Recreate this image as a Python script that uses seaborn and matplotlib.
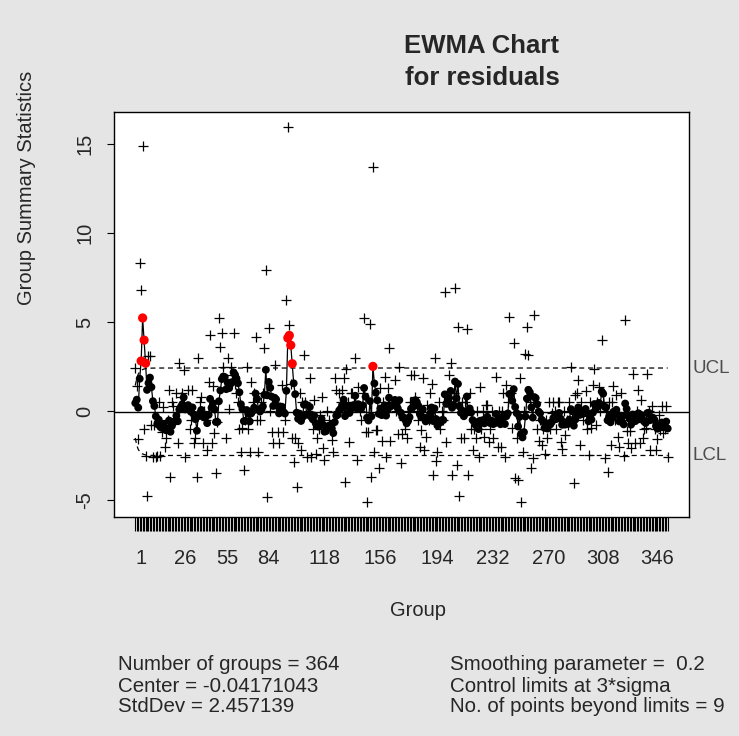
import numpy as np
import pandas as pd
import matplotlib
matplotlib.use("Agg")
import matplotlib.pyplot as plt
import matplotlib.transforms as mtransforms
import seaborn as sns

# ---- data ---------------------------------------------------------------
resid_a = [2.4, 1.4, -1.6, 8.3, 6.8, 14.9, -1.0, -2.5, -4.8, 3.1,
           3.1, -0.8, -2.6, -0.8, -2.6, -2.5, 0.5, -2.5, -1.2, 0.2,
           -2.0, -1.5, -0.5, 1.2, -3.7, 0.5, 0.3, -0.5, 1.0, -1.8,
           2.7, 0.8, 1.0, 2.3, -2.6, 0.2, 1.2, -1.0, -0.5, 1.2,
           -1.8, -1.5, -3.7, 3.0, 0.5, 0.8, -1.8, 0.0, -0.5, -2.2,
           1.65, 4.27, -1.8, 1.4, -1.25, -3.46, -0.6, 5.2, 3.58, 4.36]
resid_b = [2.5, 1.8, -1.5, 3.0, 0.1, 2.5, 2.0, 4.36, 1.5, 1.0,
           0.5, -1.0, -2.3, -0.97, -3.3, -0.5, 2.5, -1.0, -2.3, 1.65,
           0.5, 1.0, 4.14, -0.5, -2.3, -0.5, 0.5, 1.0, 3.52, 7.92,
           -4.85, 4.64, 0.0, -1.2, -1.8, 2.58, 0.3, -1.2, -1.8, 0.2,
           1.46, -1.2, -0.5, 6.24, 15.97, 4.83, 1.5, -1.5, -2.85, -1.5,
           -4.25, -1.8, 1.0, -2.2, 0.5, 3.15, 0.5, -2.6, 0.0, 1.84]
resid_c = [-2.6, -1.0, 0.6, -2.4, -1.5, -1.0, -0.2, 0.8, -2.1, -2.75,
           -1.0, 0.0, -0.5, -0.8, -1.63, -2.28, 1.84, 1.18, 0.0, 1.0,
           0.5, 1.18, 1.84, -3.97, 2.34, 0.5, -1.72, 1.0, 1.0, 0.5,
           2.96, -2.75, 1.37, 0.0, -0.5, 1.0, 5.2, -1.16, -5.1, -1.16,
           4.9, -3.7, 13.73, -2.28, -1.07, -1.07, -3.2, 1.3, -1.7, 0.5,
           1.93, -2.56, 1.3, 3.52, -1.7, 0.5, 0.5, 1.74, 0.0, -1.3]
resid_d = [2.49, -2.9, -1.3, -0.5, -1.0, -1.5, 0.0, 0.5, 2.0, 0.5,
           2.0, 0.8, 0.0, -0.5, -2.0, -1.07, 1.84, -2.2, -1.44, 0.34,
           -0.5, 1.0, 1.52, -3.6, 2.96, -2.8, -2.28, 0.52, -1.0, 0.0,
           -0.5, 6.7, -1.72, 0.5, 2.0, 2.68, -3.6, 1.0, 6.9, -3.03,
           4.74, -4.8, -1.54, 0.5, -1.54, 0.5, 4.59, -3.6, 1.0, -1.0,
           -2.2, -1.0, -1.5, 0.0, -2.56, 1.33, -1.0, 0.0, -1.44, 0.34]
resid_e = [0.34, -1.72, -1.0, 0.0, -1.5, -0.5, 1.93, -2.0, 0.0, -2.0,
           0.0, 1.0, -2.56, 1.46, 0.5, 5.3, 1.0, -0.97, 3.84, -3.78,
           -1.5, -3.88, 1.84, -5.1, -2.28, 0.0, 3.2, 4.74, 3.15, 0.5,
           -3.2, -2.66, 5.4, 0.5, -1.0, -1.7, -0.5, -1.9, -1.0, -2.4,
           -0.5, -1.5, 0.5, -1.0, -0.1, 0.5, 0.0, -1.0, 0.5, 0.52,
           -1.72, -2.15, 0.0, -1.35, -0.5, -0.79, 0.5, 2.45, -0.5, -4.06]
resid_f = [0.9, 1.0, 1.74, -1.9, 0.5, -0.5, 0.0, 1.1, -1.0, -2.47,
           0.5, -0.97, 1.46, 2.34, -0.79, 0.5, 1.37, 0.0, 4.0, 0.5,
           -2.66, 0.0, -3.4, 0.5, -1.9, 0.5, 1.4, -0.5, 0.9, -1.44,
           -2.0, 1.0, -0.5, -2.5, 5.1, -1.1, -1.8, -1.1, -2.1, 2.08,
           -0.5, -1.8, 0.0, 1.18, -1.8, 0.62, -1.5, -1.0, -0.97, 2.08,
           0.0, -2.2, 0.3, -0.5, -1.0, -2.2, -1.6, -0.2, -1.07, 0.3,
           -1.25, -1.0, 0.3, -2.56]

center = -0.04171043
std_dev = 2.457139
smoothing = 0.2
nsigmas = 3
n_beyond = 9

tick_labels = ["1", "26", "55", "84", "118", "156", "194", "232", "270", "308", "346"]
tick_groups = [5, 35, 64, 92, 130, 168, 207, 245, 283, 320, 357]
y_ticks = [-5, 0, 5, 10, 15]

# ---- statistics -----------------------------------------------------------
resid = np.array(resid_a + resid_b + resid_c + resid_d + resid_e + resid_f)
n = len(resid)
groups = np.arange(1, n + 1)
ewma = np.empty(n)
prev = center
for i, v in enumerate(resid):
    prev = smoothing * v + (1 - smoothing) * prev
    ewma[i] = prev
se = std_dev * np.sqrt(smoothing / (2 - smoothing) * (1 - (1 - smoothing) ** (2 * groups)))
ucl = center + nsigmas * se
lcl = center - nsigmas * se
viol = (ewma > ucl) | (ewma < lcl)

df = pd.DataFrame({"group": groups, "resid": resid, "ewma": ewma,
                   "ucl": ucl, "lcl": lcl, "viol": viol})

# ---- plot -------------------------------------------------------------------
sns.set_style("ticks")
plt.rcParams["font.family"] = ["Liberation Sans", "DejaVu Sans"]
bg = "#e5e5e5"
fig = plt.figure(figsize=(7.39, 7.36), dpi=100, facecolor=bg)
ax = fig.add_axes([114 / 739, 1 - 517 / 736, 575 / 739, 405 / 736])
ax.set_facecolor("white")

sns.scatterplot(data=df, x="group", y="resid", marker="+", color="black",
                s=50, linewidth=0.9, ax=ax, zorder=2, legend=False)
sns.lineplot(data=df, x="group", y="ewma", color="black", lw=0.9,
             estimator=None, ax=ax, zorder=3, legend=False)
sns.scatterplot(data=df[~df["viol"]], x="group", y="ewma", color="black",
                s=32, edgecolor="none", ax=ax, zorder=4, legend=False)
sns.scatterplot(data=df[df["viol"]], x="group", y="ewma", color="#ff0000",
                s=44, edgecolor="none", ax=ax, zorder=5, legend=False)
sns.lineplot(data=df, x="group", y="ucl", color="black", lw=0.9,
             linestyle=(0, (4, 3)), estimator=None, ax=ax, zorder=3)
sns.lineplot(data=df, x="group", y="lcl", color="black", lw=0.9,
             linestyle=(0, (4, 3)), estimator=None, ax=ax, zorder=3)
ax.axhline(center, color="black", lw=1.0, zorder=3)

ax.set_xlim(1 - 0.04 * (n - 1), n + 0.04 * (n - 1))
ax.set_ylim(-5.955, 16.80)

lab = [""] * n
for t, g in zip(tick_labels, tick_groups):
    lab[g - 1] = t
ax.set_xticks(groups)
ax.set_xticklabels(lab, fontsize=14.5)
ax.tick_params(axis="x", length=10, width=0.8, pad=13, color="black", direction="out")
ax.set_yticks(y_ticks)
ax.set_yticklabels([str(v) for v in y_ticks], rotation=90, va="center", fontsize=14.5)
ax.tick_params(axis="y", length=5, width=0.8, pad=9, color="black", direction="out")
for sp in ax.spines.values():
    sp.set_visible(True)
    sp.set_color("black")
    sp.set_linewidth(1.0)
ax.set_xlabel("")
ax.set_ylabel("")

trans = mtransforms.blended_transform_factory(ax.transAxes, ax.transData)
ax.text(1.006, ucl[-1], "UCL", transform=trans, ha="left", va="center",
        fontsize=13.5, color="#4d4d4d")
ax.text(1.006, lcl[-1], "LCL", transform=trans, ha="left", va="center",
        fontsize=13.5, color="#4d4d4d")

fig.text(482 / 739, 1 - 46 / 736, "EWMA Chart", ha="center", va="center",
         fontsize=18.5, fontweight="bold")
fig.text(482 / 739, 1 - 78 / 736, "for residuals", ha="center", va="center",
         fontsize=18.5, fontweight="bold")
fig.text(418 / 739, 1 - 610 / 736, "Group", ha="center", va="center", fontsize=14.5)
fig.text(27 / 739, 1 - 188 / 736, "Group Summary Statistics", ha="center",
         va="center", rotation=90, fontsize=14.5)

left_lines = [f"Number of groups = {n}", f"Center = {center}", f"StdDev = {std_dev}"]
right_lines = [f"Smoothing parameter =  {smoothing}",
               f"Control limits at {nsigmas}*sigma",
               f"No. of points beyond limits = {n_beyond}"]
for k, (l, r) in enumerate(zip(left_lines, right_lines)):
    yy = 1 - (665 + 21 * k) / 736
    fig.text(118 / 739, yy, l, ha="left", va="center", fontsize=14.8)
    fig.text(450 / 739, yy, r, ha="left", va="center", fontsize=14.8)

fig.savefig("out.png", dpi=100, facecolor=bg)
